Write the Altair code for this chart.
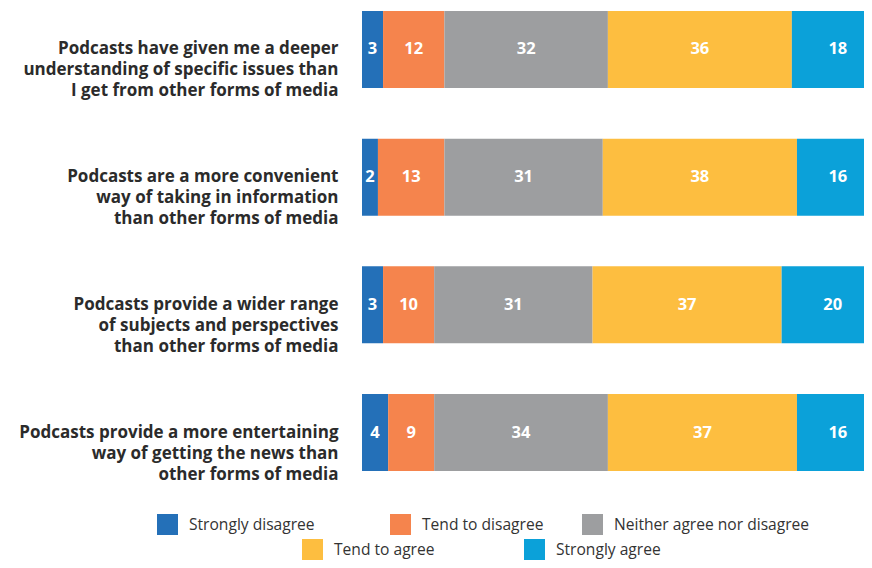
import altair as alt
import pandas as pd

# ---- data ----
question_lines = [
    ["Podcasts have given me a deeper", "understanding of specific issues than", "I get from other forms of media"],
    ["Podcasts are a more convenient", "way of taking in information", "than other forms of media"],
    ["Podcasts provide a wider range", "of subjects and perspectives", "than other forms of media"],
    ["Podcasts provide a more entertaining", "way of getting the news than", "other forms of media"],
]
questions = ["\n".join(lines) for lines in question_lines]

responses = ["Strongly disagree", "Tend to disagree", "Neither agree nor disagree",
             "Tend to agree", "Strongly agree"]
strongly_disagree = [3, 2, 3, 4]
tend_to_disagree = [12, 13, 10, 9]
neither = [32, 31, 31, 34]
tend_to_agree = [36, 38, 37, 37]
strongly_agree = [18, 16, 20, 16]
series = [strongly_disagree, tend_to_disagree, neither, tend_to_agree, strongly_agree]

colors = ["#2470b8", "#f5844d", "#9d9ea0", "#fdbe40", "#0ba1d9"]

rows = []
for qi, q in enumerate(questions):
    for ri, r in enumerate(responses):
        rows.append({"question": q, "response": r, "order": ri, "value": series[ri][qi]})
df = pd.DataFrame(rows)

# ---- layout / style ----
PLOT_W = 502
X_MIN = -1.12
X_MAX = X_MIN + PLOT_W / 5.11
FONT = "Open Sans"
legend_pos = [(-205, 503), (28, 503), (220, 503), (-60, 528), (162, 528)]

base = (
    alt.Chart(df)
    .transform_window(end="sum(value)", sort=[alt.SortField("order")],
                      groupby=["question"], frame=[None, 0])
    .transform_calculate(start="datum.end - datum.value")
    .transform_calculate(x0=f"datum.order == 0 ? {X_MIN} : datum.start")
    .transform_calculate(mid="(datum.x0 + datum.end) / 2")
)

x_scale = alt.Scale(domain=[X_MIN, X_MAX], nice=False, zero=False)
y_enc = alt.Y(
    "question:N",
    sort=questions,
    title=None,
    scale=alt.Scale(paddingInner=0.397, paddingOuter=0),
    axis=alt.Axis(
        domain=False, ticks=False, grid=False,
        labelPadding=24, labelFont=FONT, labelFontSize=17, labelFontWeight="bold",
        labelColor="#2b2b2b", labelLineHeight=21, labelLimit=0, labelAlign="right",
        labelExpr="split(datum.label, '\\n')",
    ),
)

layers = []
for i, r in enumerate(responses):
    lx, ly = legend_pos[i]
    layers.append(
        base.transform_filter(alt.datum.response == r)
        .mark_bar(clip=True)
        .encode(
            x=alt.X("x0:Q", scale=x_scale, axis=None),
            x2="end:Q",
            y=y_enc,
            color=alt.Color(
                "response:N",
                scale=alt.Scale(domain=[r], range=[colors[i]]),
                legend=alt.Legend(
                    orient="none", legendX=lx, legendY=ly, title=None, padding=0,
                    symbolType="square", symbolSize=441, symbolStrokeWidth=0,
                    symbolOpacity=1, labelOffset=11, labelLimit=0,
                    labelFont=FONT, labelFontSize=15.6, labelColor="#333333",
                ),
            ),
        )
    )

text = base.mark_text(color="white", font=FONT, fontWeight="bold", fontSize=16.5, clip=True).encode(
    x=alt.X("mid:Q", scale=x_scale, axis=None),
    y=y_enc,
    text="value:Q",
)

chart = (
    alt.layer(*layers, text)
    .resolve_scale(color="independent")
    .properties(
        width=PLOT_W, height=460,
        autosize=alt.AutoSizeParams(type="none"),
        padding={"left": 354, "top": 3, "right": 0, "bottom": 89},
    )
    .configure_view(stroke=None)
)

chart.save("out.html", embed_options={"renderer": "svg", "actions": False})
